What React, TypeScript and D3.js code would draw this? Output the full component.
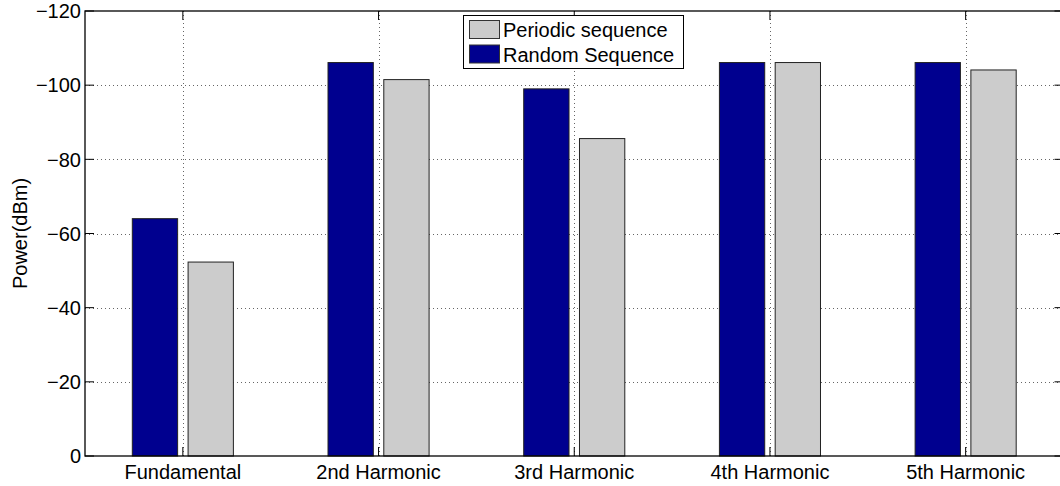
import React from "react";
import * as d3 from "d3";

const categories = ["Fundamental", "2nd Harmonic", "3rd Harmonic", "4th Harmonic", "5th Harmonic"];
const randomSeq = [-64.0, -106.1, -99.0, -106.1, -106.1];
const periodicSeq = [-52.3, -101.5, -85.6, -106.1, -104.1];
const yTicks = [0, -20, -40, -60, -80, -100, -120];
const legendLabels = ["Periodic sequence", "Random Sequence"];

const W = 1060;
const H = 486;
const left = 85;
const right = 1063.5;
const top = 11;
const bottom = 456;
const FONT = "'Liberation Sans', Arial, Helvetica, sans-serif";
const BLUE = "#00008F";
const GRAY = "#CCCCCC";

export default function App() {
  const x = d3.scaleLinear().domain([0.5, categories.length + 0.5]).range([left, right]);
  const y = d3.scaleLinear().domain([0, -120]).range([bottom, top]);
  const off = 0.1425;
  const bw = 0.2315;
  const fmt = d3.format("");
  const tickLen = 9;

  const series = [
    { vals: randomSeq, color: BLUE, dx: -off },
    { vals: periodicSeq, color: GRAY, dx: off },
  ];

  return (
    <svg width={W} height={H} style={{ position: "absolute", left: 0, top: 0, background: "#fff" }} fontFamily={FONT}>
      <rect x={0} y={0} width={W} height={H} fill="#fff" />
      {/* grid */}
      <g stroke="#666" strokeWidth={1} strokeDasharray="1,3">
        {yTicks.slice(1, -1).map((t) => (
          <line key={"gy" + t} x1={left} x2={right} y1={Math.round(y(t)) + 0.5} y2={Math.round(y(t)) + 0.5} />
        ))}
        {categories.map((c, i) => (
          <line key={"gx" + c} x1={Math.round(x(i + 1)) + 0.5} x2={Math.round(x(i + 1)) + 0.5} y1={top} y2={bottom} />
        ))}
      </g>
      {/* bars */}
      {series.map((s, si) => (
        <g key={"s" + si}>
          {s.vals.map((v, i) => {
            const x0 = x(i + 1 + s.dx - bw / 2);
            const x1 = x(i + 1 + s.dx + bw / 2);
            return (
              <rect
                key={i}
                x={x0}
                y={y(v)}
                width={x1 - x0}
                height={y(0) - y(v)}
                fill={s.color}
                stroke="#222"
                strokeWidth={1}
              />
            );
          })}
        </g>
      ))}
      {/* axes box */}
      <g stroke="#000" strokeWidth={1.3} fill="none">
        <rect x={left} y={top} width={right - left} height={bottom - top} />
      </g>
      {/* ticks */}
      <g stroke="#000" strokeWidth={1}>
        {yTicks.map((t) => (
          <g key={"ty" + t}>
            <line x1={left} x2={left + tickLen} y1={y(t)} y2={y(t)} />
            <line x1={right} x2={right - tickLen} y1={y(t)} y2={y(t)} />
          </g>
        ))}
        {categories.map((c, i) => (
          <g key={"tx" + c}>
            <line x1={x(i + 1)} x2={x(i + 1)} y1={bottom} y2={bottom - tickLen} />
            <line x1={x(i + 1)} x2={x(i + 1)} y1={top} y2={top + tickLen} />
          </g>
        ))}
      </g>
      {/* tick labels */}
      <g fontSize={20} fill="#000">
        {yTicks.map((t) => (
          <text key={"ly" + t} x={left - 4} y={y(t)} dy="0.36em" textAnchor="end">
            {fmt(t)}
          </text>
        ))}
        {categories.map((c, i) => (
          <text key={"lx" + c} x={x(i + 1)} y={479} textAnchor="middle">
            {c}
          </text>
        ))}
      </g>
      <text
        transform={`translate(27,${(top + bottom) / 2}) rotate(-90)`}
        textAnchor="middle"
        fontSize={20}
        fill="#000"
      >
        Power(dBm)
      </text>
      {/* legend */}
      <g>
        <rect x={463.5} y={15.5} width={220} height={53} fill="#fff" stroke="#000" strokeWidth={1} />
        {[GRAY, BLUE].map((col, i) => (
          <g key={"lg" + i}>
            <rect x={469.5} y={20.5 + i * 24.5} width={30} height={18} fill={col} stroke="#333" strokeWidth={1} />
            <text x={503} y={37 + i * 24.5} fontSize={20} fill="#000">
              {legendLabels[i]}
            </text>
          </g>
        ))}
      </g>
    </svg>
  );
}
